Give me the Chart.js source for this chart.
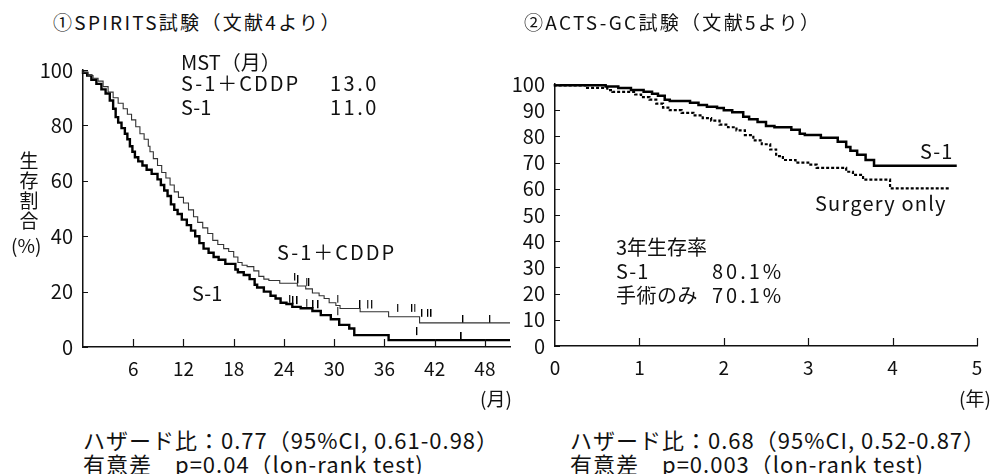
<!DOCTYPE html>
<html>
<head>
<meta charset="utf-8">
<script src="https://cdn.jsdelivr.net/npm/chart.js@4.4.1/dist/chart.umd.min.js"></script>
<style>
body { margin: 0; background: #fff; }
#wrap { position: relative; width: 995px; height: 474px; background: #fff; overflow: hidden;
        font-family: "Noto Sans CJK JP", sans-serif; color: #111; }
canvas { position: absolute; }
.t { position: absolute; white-space: nowrap; line-height: 1; font-size: 20px; }
.ttl { font-size: 19px; letter-spacing: 2.3px; }
.num { letter-spacing: 2.5px; }
.foot { font-size: 22px; letter-spacing: 1px; }
</style>
</head>
<body>
<div id="wrap">
  <canvas id="c1" width="530" height="360" style="left:0;top:40px"></canvas>
  <canvas id="c2" width="495" height="360" style="left:500px;top:40px"></canvas>

  <div class="t ttl" style="left:53px;top:12px">①SPIRITS試験（文献4より）</div>
  <div class="t ttl" style="left:524px;top:12px">②ACTS-GC試験（文献5より）</div>

  <!-- left chart notes -->
  <div class="t" style="left:181px;top:52px">MST（月）</div>
  <div class="t" style="left:181px;top:73px;letter-spacing:2px">S-1＋CDDP</div>
  <div class="t num" style="left:330px;top:73px">13.0</div>
  <div class="t" style="left:181px;top:97px">S-1</div>
  <div class="t num" style="left:330px;top:97px">11.0</div>
  <div class="t" style="left:277px;top:242px;letter-spacing:2px">S-1＋CDDP</div>
  <div class="t" style="left:192px;top:283px">S-1</div>
  <div class="t" style="left:19px;top:150px;width:20px;font-size:19px;line-height:20px;text-align:center">生<br>存<br>割<br>合</div>
  <div class="t" style="left:11px;top:235px;font-size:19px">(%)</div>
  <div class="t" style="left:480px;top:388px;font-size:19px">(月)</div>

  <!-- right chart notes -->
  <div class="t" style="left:920px;top:141px;letter-spacing:1px">S-1</div>
  <div class="t" style="left:815px;top:193px;letter-spacing:1.2px">Surgery only</div>
  <div class="t" style="left:616px;top:237px">3年生存率</div>
  <div class="t" style="left:616px;top:261px;letter-spacing:1px">S-1</div>
  <div class="t" style="left:712px;top:261px;letter-spacing:3px">80.1%</div>
  <div class="t" style="left:616px;top:285px;letter-spacing:0.5px">手術のみ</div>
  <div class="t" style="left:712px;top:285px;letter-spacing:3px">70.1%</div>
  <div class="t" style="left:959px;top:388px;font-size:19px">(年)</div>

  <!-- footnotes -->
  <div class="t foot" style="left:83px;top:428px">ハザード比：0.77（95%CI, 0.61-0.98）</div>
  <div class="t foot" style="left:83px;top:452px">有意差　p=0.04（lon-rank test)</div>
  <div class="t foot" style="left:570px;top:428px">ハザード比：0.68（95%CI, 0.52-0.87）</div>
  <div class="t foot" style="left:570px;top:452px">有意差　p=0.003（lon-rank test)</div>
</div>

<script>
// ① SPIRITS: months / survival %
const cddpT = [0, 0.6, 1.2, 1.8, 2.4, 3.0, 3.6, 4.2, 4.8, 5.3, 5.8, 6.3, 6.8, 7.3, 7.8, 8.0, 8.4, 8.9, 9.4, 9.9,
  10.4, 10.9, 11.4, 12.0, 12.6, 13.2, 13.7, 14.3, 14.9, 15.5, 16.1, 16.8, 17.4, 18.0, 18.5, 19.0, 19.6, 20.4,
  21.0, 21.6, 22.2, 23.5, 25.6, 26.6, 27.4, 28.2, 28.8, 29.4, 30.2, 30.7, 33.1, 36.5, 40.2, 44.4, 51];
const cddpS = [100, 99, 98, 97, 96, 94, 92, 90, 88, 86, 84, 82, 79.5, 77, 75, 72.5, 70.5, 68, 65.5, 63,
  61, 58.5, 56, 54, 52, 49.5, 47, 45, 43, 41, 38.5, 37, 35.5, 34.5, 32.5, 30.5, 29.5, 29,
  27.5, 25.5, 24.5, 24, 23, 22, 21, 19.5, 18.5, 17.5, 16, 15, 13.9, 12.7, 10.9, 8.7, 8.7];
const cddpCensor = [25.3, 25.7, 26.7, 27.0, 30.4, 33.1, 34.0, 34.5, 37.6, 39.3, 39.6, 40.5, 41.2, 41.6, 45.4, 48.6];

const s1T = [0, 0.5, 1.0, 1.6, 2.2, 2.7, 3.2, 3.6, 3.9, 4.2, 4.6, 5.0, 5.3, 5.6, 5.9, 6.2, 6.6, 7.1, 7.6, 8.2,
  8.9, 9.3, 9.7, 10.1, 10.5, 10.9, 11.3, 11.8, 12.4, 12.9, 13.4, 13.9, 14.4, 15.0, 15.6, 16.2, 17.0, 18.2,
  18.5, 19.2, 19.9, 20.5, 20.8, 21.6, 22.4, 23.0, 23.6, 24.3, 25.0, 26.0, 27.4, 28.4, 29.6, 30.6, 31.8,
  32.4, 36.5, 42.0, 51];
const s1S = [100, 99, 98, 96.5, 95, 93, 91.5, 89, 86, 83, 81, 79, 77, 75, 72.5, 70.5, 68.5, 67, 65.5, 64,
  62.5, 60.5, 58.5, 56.5, 54.5, 51.5, 49.5, 48, 46, 44, 42, 40, 37.5, 35.5, 34, 32.5, 31.5, 30,
  28, 27, 26, 24.5, 22.5, 21.5, 20, 18.5, 17.5, 16, 15.5, 14.5, 14, 13, 11.5, 10, 8,
  6.7, 4.3, 2.5, 2.5];
const s1Censor = [24.7, 25.1, 25.6, 26.7, 27.5, 28.1, 30.4, 39.9, 45.2];

const leftXTicks = [6, 12, 18, 24, 30, 36, 42, 48];
const leftYTicks = [0, 20, 40, 60, 80, 100];

// ② ACTS-GC: years / survival %
const actsS1T = [0, 0.6, 0.75, 0.9, 1.05, 1.15, 1.22, 1.3, 1.36, 1.6, 1.7, 1.8, 1.92, 2.0, 2.1, 2.23, 2.3,
  2.4, 2.5, 2.6, 2.8, 2.9, 2.96, 3.15, 3.35, 3.45, 3.5, 3.58, 3.68, 3.78, 3.95, 4.76];
const actsS1S = [100, 99.5, 99, 98.5, 97.7, 97, 96.3, 95.5, 94, 93.5, 92.8, 92, 91.3, 90.8, 90, 89.2, 87.5,
  86.5, 85.5, 84, 83.5, 82.5, 81, 80.5, 79.5, 78, 76, 74.5, 73, 71, 68.8, 68.8];
const surgT = [0, 0.38, 0.62, 0.68, 0.95, 1.02, 1.12, 1.2, 1.28, 1.36, 1.5, 1.64, 1.75, 1.85, 1.95, 2.05,
  2.15, 2.25, 2.35, 2.45, 2.55, 2.62, 2.7, 2.85, 3.0, 3.1, 3.45, 3.53, 3.65, 3.97, 4.1, 4.68];
const surgS = [100, 99.5, 98.5, 97.7, 97, 96, 95, 94, 92.5, 91, 90, 89, 88, 87, 86, 84.5,
  83.5, 82.3, 80.5, 78.5, 77, 75, 72.5, 71, 70, 69.2, 68, 66.5, 65.3, 63.5, 60.2, 60.2];

const rightXTicks = [0, 1, 2, 3, 4, 5];
const rightYTicks = [0, 10, 20, 30, 40, 50, 60, 70, 80, 90, 100];

Chart.defaults.font.family = '"Noto Sans CJK JP", sans-serif';
Chart.defaults.color = '#111';

function pts(ts, ss) {
  return ts.map((t, i) => ({ x: t, y: ss[i] }));
}
// survival value at time t (for censor marks)
function stepAt(ts, ss, t) {
  let v = ss[0];
  for (let i = 0; i < ts.length; i++) { if (ts[i] <= t) v = ss[i]; }
  return v;
}

// small upward tick used as censor mark
const censorMark = document.createElement('canvas');
censorMark.width = 2;
censorMark.height = 16;
censorMark.getContext('2d').fillRect(0, 0, 1.3, 8);

const innerTicks = {
  id: 'innerTicks',
  afterDatasetsDraw(chart, args, opts) {
    const { ctx, chartArea: a, scales: { x, y } } = chart;
    ctx.save();
    ctx.strokeStyle = '#111';
    ctx.lineWidth = 1.2;
    ctx.beginPath();
    opts.xt.forEach(v => {
      const px = Math.round(x.getPixelForValue(v)) + 0.5;
      ctx.moveTo(px, a.bottom);
      ctx.lineTo(px, a.bottom - 8);
    });
    opts.yt.forEach(v => {
      const py = Math.round(y.getPixelForValue(v)) + 0.5;
      ctx.moveTo(a.left, py);
      ctx.lineTo(a.left + 5, py);
    });
    ctx.stroke();
    ctx.restore();
  }
};

function axes(xmin, xmax, xt, ymax, yt, yw, xh) {
  return {
    x: {
      type: 'linear', min: xmin, max: xmax,
      grid: { display: false, drawTicks: false },
      border: { display: true, color: '#111', width: 1.5 },
      afterBuildTicks: s => { s.ticks = xt.map(v => ({ value: v })); },
      afterFit: s => { s.height = xh; },
      ticks: { padding: 10, font: { size: 19 }, maxRotation: 0, autoSkip: false }
    },
    y: {
      min: 0, max: ymax,
      grid: { display: false, drawTicks: false },
      border: { display: true, color: '#111', width: 1.5 },
      afterBuildTicks: s => { s.ticks = yt.map(v => ({ value: v })); },
      afterFit: s => { s.width = yw; },
      ticks: { padding: 10, font: { size: 20 }, autoSkip: false }
    }
  };
}

new Chart(document.getElementById('c1'), {
  type: 'line',
  data: {
    datasets: [
      { data: pts(cddpT, cddpS), stepped: 'after', borderColor: '#333', borderWidth: 1.1, pointRadius: 0, clip: false },
      { data: pts(s1T, s1S), stepped: 'after', borderColor: '#000', borderWidth: 2.4, pointRadius: 0, clip: false },
      { data: pts(cddpCensor, cddpCensor.map(t => stepAt(cddpT, cddpS, t))), showLine: false,
        pointStyle: censorMark, pointRadius: 8 },
      { data: pts(s1Censor, s1Censor.map(t => stepAt(s1T, s1S, t))), showLine: false,
        pointStyle: censorMark, pointRadius: 8 }
    ]
  },
  options: {
    responsive: false, animation: false,
    layout: { padding: { top: 30, right: 20, left: 0, bottom: 0 } },
    plugins: { legend: { display: false }, tooltip: { enabled: false },
      innerTicks: { xt: leftXTicks, yt: leftYTicks } },
    scales: axes(0, 51, leftXTicks, 100, leftYTicks, 83, 53)
  },
  plugins: [innerTicks]
});

new Chart(document.getElementById('c2'), {
  type: 'line',
  data: {
    datasets: [
      { data: pts(actsS1T, actsS1S), stepped: 'after', borderColor: '#000', borderWidth: 2.5, pointRadius: 0, clip: false },
      { data: pts(surgT, surgS), stepped: 'after', borderColor: '#000', borderWidth: 2.2, borderDash: [3, 2],
        pointRadius: 0, clip: false }
    ]
  },
  options: {
    responsive: false, animation: false,
    layout: { padding: { top: 44, right: 18, left: 0, bottom: 0 } },
    plugins: { legend: { display: false }, tooltip: { enabled: false },
      innerTicks: { xt: rightXTicks.slice(1), yt: rightYTicks } },
    scales: axes(0, 5, rightXTicks, 100, rightYTicks, 55, 54)
  },
  plugins: [innerTicks]
});
</script>
</body>
</html>
